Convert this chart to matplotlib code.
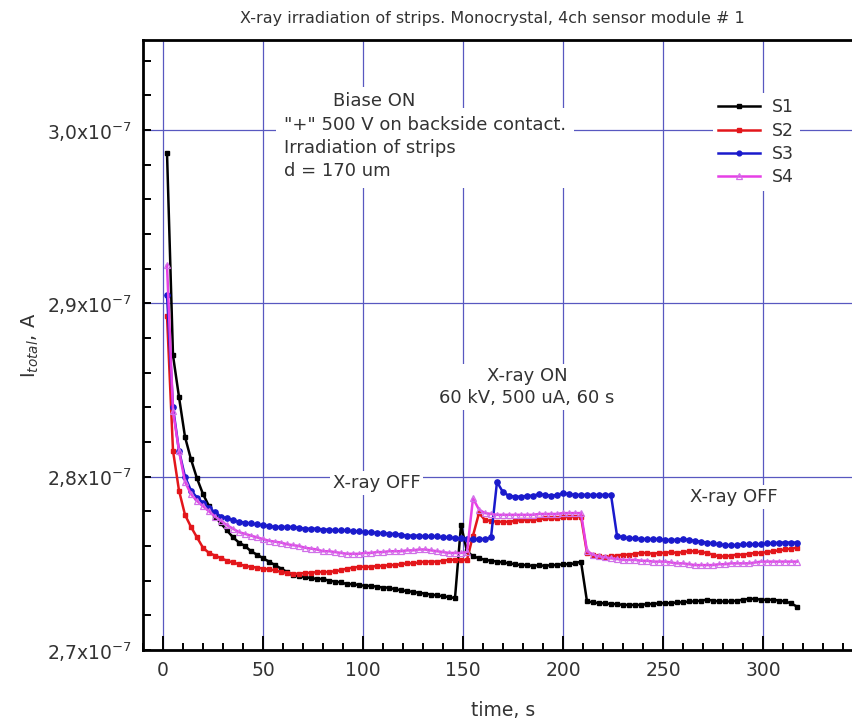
import numpy as np
import matplotlib
matplotlib.use("Agg")
import matplotlib.pyplot as plt
from matplotlib.ticker import MultipleLocator

# ---- data (current in units of 1e-7 A) ----
time_s = [2, 5, 8, 11, 14, 17, 20, 23, 26, 29,
          32, 35, 38, 41, 44, 47, 50, 53, 56, 59,
          62, 65, 68, 71, 74, 77, 80, 83, 86, 89,
          92, 95, 98, 101, 104, 107, 110, 113, 116, 119,
          122, 125, 128, 131, 134, 137, 140, 143, 146, 149,
          152, 155, 158, 161, 164, 167, 170, 173, 176, 179,
          182, 185, 188, 191, 194, 197, 200, 203, 206, 209,
          212, 215, 218, 221, 224, 227, 230, 233, 236, 239,
          242, 245, 248, 251, 254, 257, 260, 263, 266, 269,
          272, 275, 278, 281, 284, 287, 290, 293, 296, 299,
          302, 305, 308, 311, 314, 317]

s1 = [2.987, 2.870, 2.846, 2.823, 2.810, 2.799, 2.790, 2.783, 2.777, 2.773,
      2.769, 2.765, 2.762, 2.760, 2.757, 2.755, 2.753, 2.751, 2.749, 2.747,
      2.745, 2.743, 2.7425, 2.742, 2.7415, 2.741, 2.741, 2.740, 2.7395, 2.739,
      2.738, 2.738, 2.7375, 2.737, 2.737, 2.7365, 2.736, 2.736, 2.735, 2.7345,
      2.734, 2.7335, 2.733, 2.7325, 2.732, 2.7315, 2.731, 2.7305, 2.730, 2.772,
      2.757, 2.754, 2.753, 2.752, 2.7515, 2.751, 2.7505, 2.750, 2.7495, 2.749,
      2.749, 2.7485, 2.749, 2.7485, 2.749, 2.749, 2.7495, 2.7495, 2.750, 2.751,
      2.728, 2.7275, 2.727, 2.727, 2.7265, 2.7265, 2.726, 2.726, 2.726, 2.726,
      2.7265, 2.7265, 2.727, 2.727, 2.727, 2.7275, 2.7275, 2.728, 2.728, 2.7285,
      2.729, 2.7285, 2.728, 2.728, 2.728, 2.7285, 2.729, 2.7295, 2.7295, 2.729,
      2.729, 2.729, 2.7285, 2.728, 2.727, 2.725]

s2 = [2.893, 2.815, 2.792, 2.778, 2.771, 2.765, 2.759, 2.756, 2.7545, 2.753,
      2.7515, 2.7505, 2.7495, 2.7485, 2.748, 2.7475, 2.747, 2.7465, 2.746, 2.745,
      2.7445, 2.744, 2.744, 2.7445, 2.7445, 2.745, 2.745, 2.745, 2.7455, 2.746,
      2.747, 2.7475, 2.748, 2.748, 2.748, 2.7485, 2.7485, 2.749, 2.749, 2.7495,
      2.750, 2.750, 2.7505, 2.751, 2.751, 2.751, 2.7515, 2.752, 2.752, 2.752,
      2.752, 2.766, 2.779, 2.775, 2.7745, 2.774, 2.774, 2.774, 2.7745, 2.775,
      2.775, 2.775, 2.7755, 2.776, 2.776, 2.776, 2.7765, 2.777, 2.777, 2.777,
      2.756, 2.755, 2.754, 2.7535, 2.754, 2.7545, 2.755, 2.755, 2.7555, 2.756,
      2.756, 2.7555, 2.756, 2.756, 2.7565, 2.756, 2.7565, 2.757, 2.757, 2.7565,
      2.756, 2.755, 2.754, 2.754, 2.7545, 2.755, 2.755, 2.7555, 2.756, 2.756,
      2.7565, 2.757, 2.7575, 2.758, 2.7585, 2.759]

s3 = [2.905, 2.840, 2.815, 2.800, 2.792, 2.788, 2.785, 2.782, 2.7795, 2.777,
      2.776, 2.775, 2.774, 2.7735, 2.773, 2.7725, 2.772, 2.7715, 2.771, 2.771,
      2.771, 2.771, 2.7705, 2.770, 2.770, 2.770, 2.7695, 2.7695, 2.769, 2.769,
      2.769, 2.7685, 2.7685, 2.768, 2.768, 2.7675, 2.7675, 2.767, 2.767, 2.7665,
      2.766, 2.766, 2.766, 2.7655, 2.7655, 2.7655, 2.765, 2.765, 2.7645, 2.7645,
      2.764, 2.764, 2.764, 2.764, 2.765, 2.797, 2.791, 2.789, 2.7885, 2.7885,
      2.789, 2.789, 2.790, 2.7895, 2.789, 2.7895, 2.7905, 2.790, 2.7895, 2.7895,
      2.7895, 2.7895, 2.7895, 2.7895, 2.7895, 2.766, 2.765, 2.7645, 2.7645, 2.764,
      2.764, 2.764, 2.764, 2.7635, 2.7635, 2.7635, 2.764, 2.7635, 2.763, 2.7625,
      2.762, 2.7615, 2.761, 2.7605, 2.7605, 2.7605, 2.761, 2.761, 2.761, 2.761,
      2.7615, 2.7615, 2.762, 2.762, 2.762, 2.762]

s4 = [2.922, 2.838, 2.815, 2.797, 2.790, 2.786, 2.783, 2.780, 2.777, 2.7745,
      2.772, 2.770, 2.768, 2.767, 2.766, 2.765, 2.764, 2.763, 2.7625, 2.762,
      2.761, 2.7605, 2.760, 2.759, 2.7585, 2.758, 2.757, 2.757, 2.7565, 2.756,
      2.7555, 2.7555, 2.7555, 2.756, 2.756, 2.7565, 2.7565, 2.757, 2.757, 2.757,
      2.7575, 2.7575, 2.758, 2.758, 2.7575, 2.757, 2.7565, 2.756, 2.756, 2.756,
      2.7565, 2.7875, 2.781, 2.779, 2.7785, 2.778, 2.778, 2.778, 2.778, 2.778,
      2.778, 2.778, 2.7785, 2.7785, 2.7785, 2.7785, 2.779, 2.779, 2.779, 2.779,
      2.757, 2.755, 2.754, 2.7535, 2.753, 2.7525, 2.752, 2.752, 2.752, 2.7515,
      2.7515, 2.751, 2.751, 2.751, 2.7505, 2.750, 2.750, 2.7495, 2.749, 2.749,
      2.749, 2.749, 2.7495, 2.7495, 2.750, 2.750, 2.750, 2.750, 2.7505, 2.751,
      2.751, 2.751, 2.751, 2.751, 2.751, 2.751]

series_names = ["S1", "S2", "S3", "S4"]
y_ticks = [2.7, 2.8, 2.9, 3.0]
y_tick_labels = ["2,7x10$^{-7}$", "2,8x10$^{-7}$", "2,9x10$^{-7}$", "3,0x10$^{-7}$"]
x_ticks = [0, 50, 100, 150, 200, 250, 300]

plt.rcParams['font.family'] = ['DejaVu Sans']
grid_col = '#5858c0'
txt_col = '#333333'

fig = plt.figure(figsize=(8.52, 7.21), dpi=100)
ax = fig.add_axes([143 / 852, 1 - 650 / 721, 720 / 852, 610 / 721])

styles = [
    dict(color='black', marker='s', ms=3.2, mfc='black', mec='black'),
    dict(color='#e3161b', marker='s', ms=3.2, mfc='#e3161b', mec='#e3161b'),
    dict(color='#1a1acc', marker='o', ms=3.8, mfc='#1a1acc', mec='#1a1acc'),
    dict(color='#e640e6', marker='^', ms=5, mfc='none', mec='#d070e8', mew=0.9),
]
for name, vals, st in zip(series_names, [s1, s2, s3, s4], styles):
    ax.plot(time_s, vals, lw=1.8, label=name, zorder=3, **st)

ax.set_xlim(-10, 350)
ax.set_ylim(2.7, 3.052)
ax.set_xticks(x_ticks)
ax.set_yticks(y_ticks)
ax.set_yticklabels(y_tick_labels)
ax.xaxis.set_minor_locator(MultipleLocator(10))
ax.yaxis.set_minor_locator(MultipleLocator(0.02))
ax.grid(True, which='major', color=grid_col, lw=0.9)
ax.set_axisbelow(True)

ax.tick_params(axis='both', which='both', direction='in', top=False, right=False,
               labelsize=13.5, width=1.4, colors='black')
ax.tick_params(axis='x', which='major', length=10, pad=8)
ax.tick_params(axis='x', which='minor', length=5)
ax.tick_params(axis='y', which='major', length=6, pad=8)
ax.tick_params(axis='y', which='minor', length=6)
for sp in ax.spines.values():
    sp.set_linewidth(2)
ax.tick_params(labelcolor=txt_col)

ax.set_xlabel("time, s", fontsize=13.5, color=txt_col, labelpad=15)
ax.set_ylabel("I$_{total}$, A", fontsize=14, color=txt_col, labelpad=4)
fig.suptitle("X-ray irradiation of strips. Monocrystal, 4ch sensor module # 1",
             x=0.578, y=0.985, fontsize=11.5, color=txt_col)

box = dict(facecolor='white', edgecolor='none', pad=2)
ax.text(60.5, 2.9896, "\"+\" 500 V on backside contact.\nIrradiation of strips\nd = 170 um",
        fontsize=13, color=txt_col, va='center', ha='left', linespacing=1.35,
        bbox=dict(facecolor='white', edgecolor='none', pad=6), zorder=4)
ax.text(85, 3.0167, "Biase ON", fontsize=13, color=txt_col, va='center', ha='left',
        bbox=dict(facecolor='white', edgecolor='none', pad=4), zorder=4)
ax.text(85, 2.7964, "X-ray OFF", fontsize=13, color=txt_col, va='center', ha='left', bbox=box, zorder=4)
ax.text(182, 2.8518, "X-ray ON\n60 kV, 500 uA, 60 s", fontsize=13, color=txt_col,
        va='center', ha='center', linespacing=1.3, bbox=box, zorder=4)
ax.text(263.5, 2.7883, "X-ray OFF", fontsize=13, color=txt_col, va='center', ha='left', bbox=box, zorder=4)

leg = ax.legend(loc='upper left', bbox_to_anchor=(0.78, 0.927), fontsize=12.5,
                frameon=True, framealpha=1, edgecolor='none', handlelength=2.4,
                handletextpad=0.7, labelspacing=0.3, borderpad=0.3, markerscale=0.9)
for t in leg.get_texts():
    t.set_color(txt_col)

fig.savefig("out.png", dpi=100)
